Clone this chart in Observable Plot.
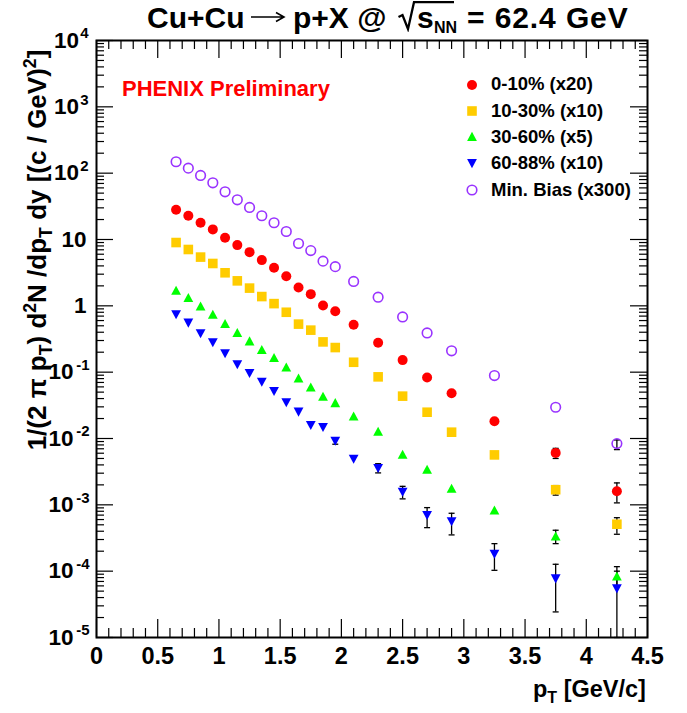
<!DOCTYPE html>
<html><head><meta charset="utf-8">
<script src="https://cdn.jsdelivr.net/npm/d3@7"></script>
<script src="https://cdn.jsdelivr.net/npm/@observablehq/plot@0.6"></script>
<style>
body{margin:0;background:#fff;}
#wrap{position:relative;width:687px;height:713px;font-family:"Liberation Sans",Arial,Helvetica,sans-serif;font-weight:bold;color:#000;overflow:hidden;}
.abs{position:absolute;white-space:nowrap;line-height:1;}
sub,sup{font-size:68%;line-height:0;}
</style></head><body>
<div id="wrap"><div id="chart"></div></div>
<script>
// ---- data ----
const pT = [0.65,0.75,0.85,0.95,1.05,1.15,1.25,1.35,1.45,1.55,1.65,1.75,1.85,1.95,2.1,2.3,2.5,2.7,2.9,3.25,3.75,4.25];
const cent0_10  = [28.1,22.8,17.9,14.2,10.6,8.23,6.45,4.89,3.74,2.80,1.89,1.50,1.01,0.83,0.52,0.277,0.152,0.083,0.0482,0.0182,0.00607,0.0016];
const cent10_30 = [9.0,7.07,5.43,4.35,3.15,2.38,1.85,1.38,1.08,0.80,0.53,0.43,0.286,0.235,0.141,0.085,0.0435,0.0249,0.01245,0.00566,0.00169,0.00051];
const cent30_60 = [1.68,1.31,0.976,0.732,0.530,0.387,0.290,0.215,0.163,0.117,0.080,0.0586,0.0424,0.0340,0.0214,0.0126,0.00566,0.00336,0.00174,0.000817,0.000331,0.0000826];
const cent60_88 = [0.75,0.56,0.387,0.283,0.193,0.132,0.0976,0.0722,0.0522,0.0353,0.0255,0.0160,0.0150,0.0093,0.00498,0.00360,0.00158,0.000704,0.000566,0.000184,0.0000782,0.0000552];
const minBias   = [148.6,119,92.3,71.6,52.4,39.7,30.4,22.8,17.9,13.2,8.7,6.8,4.72,3.9,2.33,1.35,0.68,0.39,0.21,0.0889,0.0296,0.00838];
// visible error bars: [pT, low, high]
const err0_10  = [[3.75,0.0050,0.0071],[4.25,0.00107,0.00214]];
const err10_30 = [[3.75,0.0014,0.00195],[4.25,0.00036,0.00064]];
const err30_60 = [[3.75,0.00026,0.000414],[4.25,0.00006,0.000117]];
const err60_88 = [[1.95,0.0082,0.0103],[2.3,0.00303,0.00417],[2.5,0.00123,0.0019],[2.7,0.000453,0.000908],[2.9,0.000352,0.000746],[3.25,0.000103,0.00026],[3.75,0.0000243,0.000127],[4.25,0.00001,0.000100]];
const errMinBias = [[4.25,0.0068,0.0095]];
const seriesNames = ["0-10% (x20)","10-30% (x10)","30-60% (x5)","60-88% (x10)","Min. Bias (x300)"];
const xTickVals = [0,0.5,1,1.5,2,2.5,3,3.5,4,4.5];
const xTickLabels = ["0","0.5","1","1.5","2","2.5","3","3.5","4","4.5"];
const yExp = [4,3,2,1,0,-1,-2,-3,-4,-5];

// ---- symbols ----
const rOf = s => Math.sqrt(s/Math.PI);
const symCircle = {draw(c,s){const r=rOf(s); c.moveTo(r,0); c.arc(0,0,r,0,2*Math.PI);}};
const symSquare = {draw(c,s){const r=rOf(s); c.rect(-r,-r,2*r,2*r);}};
const symTriUp  = {draw(c,s){const r=rOf(s); c.moveTo(0,-1.05*r); c.lineTo(r,0.8*r); c.lineTo(-r,0.8*r); c.closePath();}};
const symTriDn  = {draw(c,s){const r=rOf(s); c.moveTo(0,1.05*r); c.lineTo(r,-0.8*r); c.lineTo(-r,-0.8*r); c.closePath();}};
const symCap    = {draw(c,s){const r=rOf(s); c.moveTo(-r,0); c.lineTo(r,0);}};

const series = [
  {name:seriesNames[0], vals:cent0_10,  err:err0_10,  sym:symCircle, r:5.0, fill:"#ff0000", stroke:"none", sw:0},
  {name:seriesNames[1], vals:cent10_30, err:err10_30, sym:symSquare, r:4.8, fill:"#ffcc00", stroke:"none", sw:0},
  {name:seriesNames[2], vals:cent30_60, err:err30_60, sym:symTriUp,  r:4.9, fill:"#00ff00", stroke:"none", sw:0},
  {name:seriesNames[3], vals:cent60_88, err:err60_88, sym:symTriDn,  r:4.9, fill:"#0000ff", stroke:"none", sw:0},
  {name:seriesNames[4], vals:minBias,   err:errMinBias,sym:symCircle, r:4.8, fill:"none", stroke:"#9933ff", sw:1.6}
];

// ---- geometry ----
const W=687, H=713, mL=96, mR=40, mT=40, mB=76;
const fw=W-mL-mR, fh=H-mT-mB;
const FONT = '"Liberation Sans",Arial,Helvetica,sans-serif';

const minorX = d3.range(1,45).map(i=>i/10).filter(v=>Math.abs(v*2-Math.round(v*2))>1e-6);
const majorY = yExp.map(e=>Math.pow(10,e));
const minorY = [];
for (let e=-5;e<4;e++) for (let k=2;k<10;k++) minorY.push(k*Math.pow(10,e));
const decades = yExp.map(e=>({e, v:Math.pow(10,e)}));

const tickStyle = {stroke:"black", strokeWidth:1.2};
const yLab = {frameAnchor:"left", textAnchor:"end", fontWeight:"bold", fontFamily:FONT};
const marks = [
  Plot.ruleX(xTickVals, {x:d=>d, insetTop:fh-18, ...tickStyle}),
  Plot.ruleX(xTickVals, {x:d=>d, insetBottom:fh-18, ...tickStyle}),
  Plot.ruleX(minorX, {x:d=>d, insetTop:fh-9, ...tickStyle}),
  Plot.ruleX(minorX, {x:d=>d, insetBottom:fh-9, ...tickStyle}),
  Plot.ruleY(majorY, {y:d=>d, insetRight:fw-17, ...tickStyle}),
  Plot.ruleY(majorY, {y:d=>d, insetLeft:fw-17, ...tickStyle}),
  Plot.ruleY(minorY, {y:d=>d, insetRight:fw-8, ...tickStyle}),
  Plot.ruleY(minorY, {y:d=>d, insetLeft:fw-8, ...tickStyle}),
  Plot.text(xTickVals, {x:d=>d, text:(d,i)=>xTickLabels[i], frameAnchor:"bottom", dy:19, lineAnchor:"middle", fontSize:23.5, fontWeight:"bold", fontFamily:FONT, fill:"black"}),
  Plot.text(decades.filter(d=>d.e===0||d.e===1), {y:"v", text:d=>d.e===0?"1":"10", dx:-10, fontSize:22.5, ...yLab}),
  Plot.text(decades.filter(d=>d.e>=2), {y:"v", text:()=>"10", dx:-17.5, fontSize:22.5, ...yLab}),
  Plot.text(decades.filter(d=>d.e>=2), {y:"v", text:d=>String(d.e), dx:-8, dy:-7, fontSize:15, ...yLab}),
  Plot.text(decades.filter(d=>d.e<0), {y:"v", text:()=>"10", dx:-23, fontSize:22.5, ...yLab}),
  Plot.text(decades.filter(d=>d.e<0), {y:"v", text:d=>"-"+(-d.e), dx:-7, dy:-7, fontSize:15, ...yLab}),
];
// error bars
for (const s of series) {
  const rows = s.err.map(([x,lo,hi])=>({x,lo,hi}));
  marks.push(Plot.ruleX(rows, {x:"x", y1:"lo", y2:"hi", stroke:"black", strokeWidth:1.3}));
  marks.push(Plot.dot(rows, {x:"x", y:"hi", symbol:symCap, r:3, stroke:"black", strokeWidth:1.3}));
  marks.push(Plot.dot(rows, {x:"x", y:"lo", symbol:symCap, r:3, stroke:"black", strokeWidth:1.3}));
}
// markers
for (const s of series) {
  const rows = pT.map((x,i)=>({x, v:s.vals[i]}));
  marks.push(Plot.dot(rows, {x:"x", y:"v", symbol:s.sym, r:s.r, fill:s.fill, stroke:s.stroke, strokeWidth:s.sw}));
}
marks.push(Plot.frame({stroke:"black", strokeWidth:2}));

const chart = Plot.plot({
  width:W, height:H, marginLeft:mL, marginRight:mR, marginTop:mT, marginBottom:mB,
  x:{domain:[0,4.5], axis:null},
  y:{type:"log", domain:[1e-5,1e4], axis:null},
  style:{background:"white", fontFamily:FONT, overflow:"visible"},
  marks
});
document.getElementById("chart").appendChild(chart);

// ---- text overlays ----
const wrap = document.getElementById("wrap");
function place(html, left, baseline, fs, css) {
  const d = document.createElement("div");
  d.className = "abs";
  d.style.left = left+"px";
  d.style.top = (baseline-0.8465*fs)+"px";
  d.style.fontSize = fs+"px";
  if (css) Object.assign(d.style, css);
  d.innerHTML = html;
  wrap.appendChild(d);
  return d;
}
function svgAbs(left, top, w, h, inner) {
  const d = document.createElement("div");
  d.className = "abs";
  Object.assign(d.style, {left:left+"px", top:top+"px"});
  d.innerHTML = '<svg width="'+w+'" height="'+h+'">'+inner+'</svg>';
  wrap.appendChild(d);
}
// title, in pieces
place('Cu+Cu', 147, 28, 30);
svgAbs(250, 10, 36, 14, '<path d="M1,7 H33 M26,2.5 L34,7 L26,11.5" fill="none" stroke="black" stroke-width="1.6"/>');
place('p+X @', 293, 28, 30);
svgAbs(397, 0, 62, 32, '<path d="M1.5,17 L5.5,15 L11,29 L17,2.2 L57,2.2" fill="none" stroke="black" stroke-width="2.3"/>');
place('s', 417, 28, 30);
place('NN', 434, 33.5, 16);
place('= 62.4 GeV', 467, 28, 30, {letterSpacing:"0.9px"});
// PHENIX Preliminary
place('PHENIX Preliminary', 122, 96.7, 22, {color:"#ff0000"});
// x title
place('p<sub>T</sub> [GeV/c]', 533, 698, 23.5);
// y title
const yl = document.createElement("div");
yl.className = "abs";
Object.assign(yl.style, {left:"37px", top:"250px", fontSize:"26px", transform:"translate(-50%,-50%) rotate(-90deg)"});
yl.innerHTML = '1/(2 &pi; p<sub>T</sub>) d<sup>2</sup>N /dp<sub>T</sub> dy [(c / GeV)<sup>2</sup>]';
wrap.appendChild(yl);
// legend
const legY = [84.5,110.8,137.1,163.4,189.7];
series.forEach((s,i)=>{
  const p = d3.path(); s.sym.draw(p, s.r*s.r*Math.PI);
  const sv = document.createElementNS("http://www.w3.org/2000/svg","svg");
  sv.setAttribute("width",16); sv.setAttribute("height",16); sv.setAttribute("viewBox","-8 -8 16 16");
  sv.style.position="absolute"; sv.style.left=(472-8)+"px"; sv.style.top=(legY[i]-8)+"px";
  const pa = document.createElementNS("http://www.w3.org/2000/svg","path");
  pa.setAttribute("d", p.toString()); pa.setAttribute("fill", s.fill); pa.setAttribute("stroke", s.stroke); pa.setAttribute("stroke-width", s.sw);
  sv.appendChild(pa); wrap.appendChild(sv);
  place(s.name, 491, legY[i]+6.6, 18.5);
});
</script>
</body></html>
